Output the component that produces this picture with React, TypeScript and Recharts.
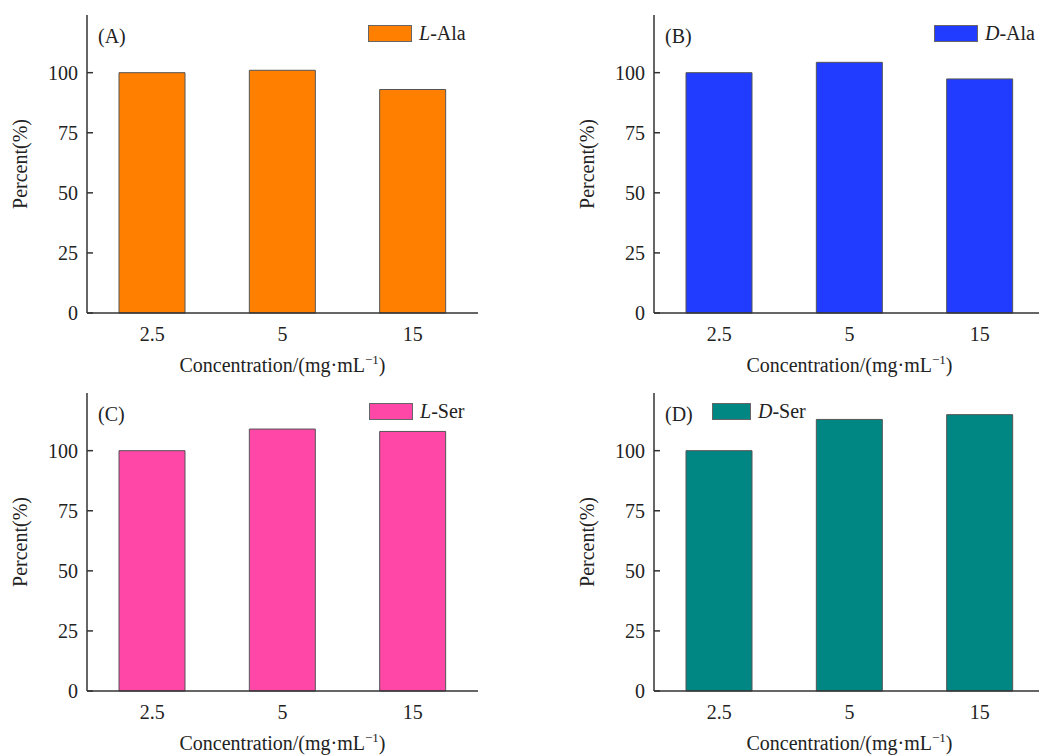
import React from "react";
import { BarChart, Bar, XAxis, YAxis } from "recharts";

const categories = ["2.5", "5", "15"];
const lAlaValues = [100, 101, 93];
const dAlaValues = [100, 104.3, 97.4];
const lSerValues = [100, 109, 108];
const dSerValues = [100, 113, 115];
const yTicks = [0, 25, 50, 75, 100];

const FONT = "'Liberation Serif', 'Times New Roman', serif";
const TEXT = "#222";
const AXIS = "#333";

type Panel = {
    tag: string;
    values: number[];
    color: string;
    prefix: string;
    suffix: string;
    left: number;
    top: number;
    legendX: number;
    legendW: number;
};

const panels: Panel[] = [
    { tag: "(A)", values: lAlaValues, color: "#ff8000", prefix: "L", suffix: "-Ala", left: 0, top: 0, legendX: 368, legendW: 42 },
    { tag: "(B)", values: dAlaValues, color: "#213bff", prefix: "D", suffix: "-Ala", left: 567, top: 0, legendX: 367, legendW: 42 },
    { tag: "(C)", values: lSerValues, color: "#ff47a8", prefix: "L", suffix: "-Ser", left: 0, top: 378, legendX: 369, legendW: 42 },
    { tag: "(D)", values: dSerValues, color: "#008683", prefix: "D", suffix: "-Ser", left: 567, top: 378, legendX: 145, legendW: 37 },
];

const W = 520;
const H = 380;
const M = { top: 15, right: 42, bottom: 0, left: 0 };
const textStyle = { fontFamily: FONT, fontSize: 20, fill: TEXT };

const XTitle = ({ viewBox }: any) => {
    const { x, y, width } = viewBox;
    return (
        <text x={x + width / 2} y={y + 59} textAnchor="middle" style={textStyle}>
            <tspan>Concentration/(mg·mL</tspan>
            <tspan style={{ fontSize: 13 }} dy={-8}>−1</tspan>
            <tspan dy={8}>)</tspan>
        </text>
    );
};

const YTitle = ({ viewBox }: any) => {
    const { y, height } = viewBox;
    return (
        <text transform={`translate(27, ${y + height / 2}) rotate(-90)`} textAnchor="middle" style={textStyle}>
            Percent(%)
        </text>
    );
};

const PanelChart = ({ p }: { p: Panel }) => {
    const data = categories.map((name, i) => ({ name, value: p.values[i] }));
    return (
        <div style={{ position: "absolute", left: p.left, top: p.top, width: W, height: H }}>
            <BarChart width={W} height={H} data={data} margin={M} style={{ fontFamily: FONT }}>
                <XAxis
                    dataKey="name"
                    height={67}
                    tickLine={false}
                    tickSize={0}
                    tickMargin={14}
                    axisLine={{ stroke: AXIS, strokeWidth: 1.5 }}
                    tick={{ style: textStyle }}
                    label={<XTitle />}
                />
                <XAxis xAxisId="top" dataKey="name" orientation="top" height={0} tick={false} tickLine={false} axisLine={{ stroke: AXIS, strokeWidth: 1.5 }} />
                <YAxis
                    width={87}
                    domain={[0, 124]}
                    ticks={yTicks}
                    interval={0}
                    tickSize={-6}
                    tickMargin={15}
                    axisLine={{ stroke: AXIS, strokeWidth: 1.5 }}
                    tickLine={{ stroke: AXIS, strokeWidth: 1.5 }}
                    tick={{ style: textStyle }}
                    label={<YTitle />}
                />
                <YAxis yAxisId="right" orientation="right" width={0} tick={false} tickLine={false} axisLine={{ stroke: AXIS, strokeWidth: 1.5 }} />
                <Bar dataKey="value" fill={p.color} stroke="#555" strokeWidth={1} barSize={66} isAnimationActive={false} />
            </BarChart>
            <div style={{ position: "absolute", left: 98, top: 25, fontFamily: FONT, fontSize: 20, color: TEXT, lineHeight: "22px" }}>
                {p.tag}
            </div>
            <div style={{ position: "absolute", left: p.legendX, top: 22, display: "flex", alignItems: "center", fontFamily: FONT, fontSize: 20, color: TEXT, lineHeight: "22px", whiteSpace: "nowrap" }}>
                <span style={{ display: "inline-block", width: p.legendW, height: 15, background: p.color, border: "1px solid #666", marginRight: 7 }} />
                <span><i>{p.prefix}</i>{p.suffix}</span>
            </div>
        </div>
    );
};

export default function App() {
    return (
        <div style={{ position: "fixed", left: 0, top: 0, width: 1039, height: 755, overflow: "hidden", background: "#fff" }}>
            {panels.map((p) => (
                <PanelChart key={p.tag} p={p} />
            ))}
        </div>
    );
}
